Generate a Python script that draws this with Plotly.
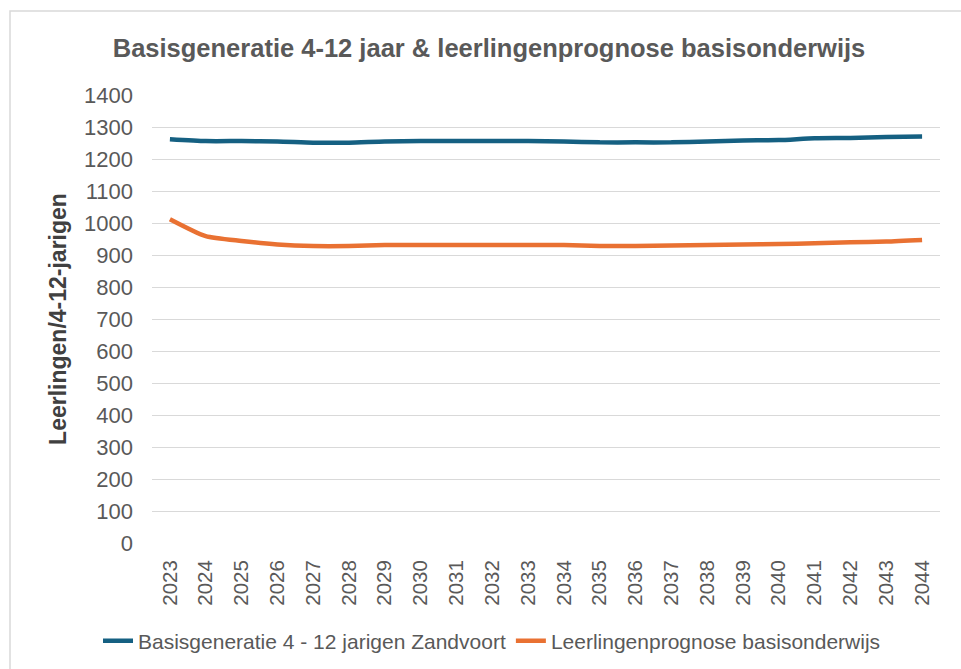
import plotly.graph_objects as go

years = [str(y) for y in range(2023, 2045)]
basisgeneratie = [1262, 1256, 1256, 1255, 1251, 1251, 1255, 1256, 1256, 1256, 1256, 1255,
                  1252, 1252, 1252, 1255, 1258, 1259, 1265, 1266, 1269, 1270]
leerlingen = [1012, 959, 944, 933, 928, 928, 931, 931, 931, 931, 931, 931,
              928, 928, 930, 931, 933, 934, 937, 940, 942, 947]

FONT = "Liberation Sans, Arial, sans-serif"

fig = go.Figure()
fig.add_trace(go.Scatter(x=years, y=basisgeneratie, mode="lines",
                         name="Basisgeneratie 4 - 12 jarigen Zandvoort",
                         line=dict(color="#156082", width=4.5, shape="spline", smoothing=0.6)))
fig.add_trace(go.Scatter(x=years, y=leerlingen, mode="lines",
                         name="Leerlingenprognose basisonderwijs",
                         line=dict(color="#E97132", width=4.5, shape="spline", smoothing=0.6)))

L, R, T, B = 152, 21, 95, 126
W, H = 961, 669
pw, ph = W - L - R, H - T - B

fig.update_layout(
    width=W, height=H,
    margin=dict(l=L, r=R, t=T, b=B, autoexpand=False),
    paper_bgcolor="white", plot_bgcolor="white",
    title=dict(text="<b>Basisgeneratie 4-12 jaar & leerlingenprognose basisonderwijs</b>",
               x=489 / W, xanchor="center", y=1 - 48 / H, yanchor="middle",
               font=dict(family=FONT, size=25.5, color="#595959")),
    xaxis=dict(type="category", range=[-0.5, len(years) - 0.5], tickangle=-90,
               showgrid=False, zeroline=False, showline=False, ticks="",
               ticklabelstandoff=12, automargin=False,
               tickfont=dict(family=FONT, size=20.5, color="#595959")),
    yaxis=dict(range=[0, 1400], dtick=100, showgrid=True, gridcolor="#D9D9D9", gridwidth=1,
               zeroline=False, showline=False, ticks="", ticklabelstandoff=18, automargin=False,
               tickfont=dict(family=FONT, size=22, color="#595959"),
               title=dict(text="<b>Leerlingen/4-12-jarigen</b>", standoff=10,
                          font=dict(family=FONT, size=23, color="#404040"))),
    legend=dict(orientation="h", x=(492 - L) / pw, xanchor="center",
                y=-(641 - (T + ph)) / ph, yanchor="middle",
                font=dict(family=FONT, size=21, color="#595959"),
                tracegroupgap=0),
    showlegend=True,
)

# outer chart border (extends past the right/bottom of the image, as in the reference)
fig.add_shape(type="rect", xref="paper", yref="paper",
              x0=(10 - L) / pw, x1=(W + 20 - L) / pw,
              y0=-(H + 20 - (T + ph)) / ph, y1=((T + ph) - 11) / ph,
              line=dict(color="#D9D9D9", width=1.5), fillcolor="rgba(0,0,0,0)", layer="below")

fig.write_html("out.html", config={"displayModeBar": False},
               post_script="document.body.style.margin='0';")
